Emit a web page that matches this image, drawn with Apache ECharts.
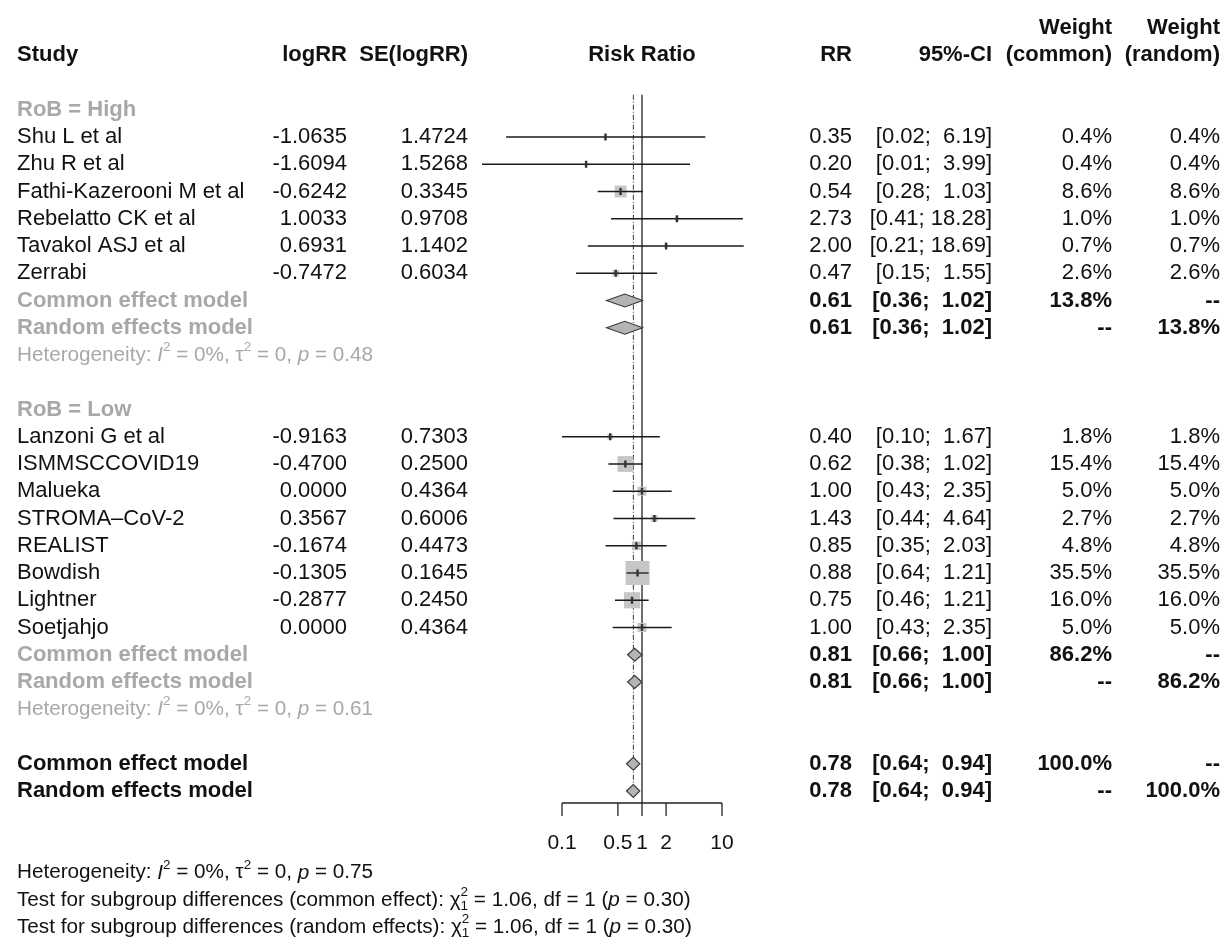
<!DOCTYPE html>
<html><head><meta charset="utf-8">
<script src="https://cdn.jsdelivr.net/npm/echarts@6/dist/echarts.min.js"></script>
<style>html,body{margin:0;padding:0;background:#fff}#c{width:1227px;height:939px}</style>
</head><body><div id="c"></div>
<script>
// ---------- data ----------
const subgroupLabels = ['RoB = High', 'RoB = Low'];
const studies = ['Shu L et al','Zhu R et al','Fathi-Kazerooni M et al','Rebelatto CK et al','Tavakol ASJ et al','Zerrabi',
  'Lanzoni G et al','ISMMSCCOVID19','Malueka','STROMA\u2013CoV-2','REALIST','Bowdish','Lightner','Soetjahjo'];
const studySubgroup = [0,0,0,0,0,0,1,1,1,1,1,1,1,1];
const logRR   = [-1.0635,-1.6094,-0.6242,1.0033,0.6931,-0.7472,-0.9163,-0.4700,0.0000,0.3567,-0.1674,-0.1305,-0.2877,0.0000];
const seLogRR = [1.4724,1.5268,0.3345,0.9708,1.1402,0.6034,0.7303,0.2500,0.4364,0.6006,0.4473,0.1645,0.2450,0.4364];
const rr      = [0.35,0.20,0.54,2.73,2.00,0.47,0.40,0.62,1.00,1.43,0.85,0.88,0.75,1.00];
const ciLower = [0.02,0.01,0.28,0.41,0.21,0.15,0.10,0.38,0.43,0.44,0.35,0.64,0.46,0.43];
const ciUpper = [6.19,3.99,1.03,18.28,18.69,1.55,1.67,1.02,2.35,4.64,2.03,1.21,1.21,2.35];
const weightCommon = [0.4,0.4,8.6,1.0,0.7,2.6,1.8,15.4,5.0,2.7,4.8,35.5,16.0,5.0];
const weightRandom = [0.4,0.4,8.6,1.0,0.7,2.6,1.8,15.4,5.0,2.7,4.8,35.5,16.0,5.0];

const subgroupRR     = [0.61, 0.81];
const subgroupLower  = [0.36, 0.66];
const subgroupUpper  = [1.02, 1.00];
const subgroupWeight = [13.8, 86.2];
const subgroupHet    = [{i2:'0%', tau2:'0', p:'0.48'}, {i2:'0%', tau2:'0', p:'0.61'}];

const overallRR = 0.78, overallLower = 0.64, overallUpper = 0.94, overallWeight = 100.0;
const overallHet = {i2:'0%', tau2:'0', p:'0.75'};
const subgroupTests = [{label:'common effect', chi2:'1.06', df:'1', p:'0.30'}, {label:'random effects', chi2:'1.06', df:'1', p:'0.30'}];

const axisTicks = [0.1, 0.5, 1, 2, 10];
const axisTickLabels = ['0.1', '0.5', '1', '2', '10'];

// ---------- layout / style ----------
const FONT = '"Liberation Sans", Arial, Helvetica, sans-serif';
const FS = 22, FS_HET = 20.7, FS_TICK = 21;
const BLACK = '#111', GREY = '#a8a8a8';
const COL = {study: 17, logRR: 347, se: 468, rr: 852, ci: 992, wc: 1112, wr: 1220};
const AXIS_ROW = 24.44;
const LINE_TOP_ROW = -1.55;

const fmtCI = (lo, hi) => '[' + lo.toFixed(2) + '; ' + hi.toFixed(2).padStart(5, ' ') + ']';
const fmtW = w => w.toFixed(1) + '%';

// ---------- build rows ----------
const texts = [];
const studyMarks = []; // [rr, row, lo, hi, w]
const diamonds = [];   // [est, row, lo, hi]
function T(row, x, text, o) { texts.push(Object.assign({row, x, text}, o || {})); }

T(-4, COL.wc, 'Weight', {align:'right', bold:true});
T(-4, COL.wr, 'Weight', {align:'right', bold:true});
T(-3, COL.study, 'Study', {bold:true});
T(-3, COL.logRR, 'logRR', {align:'right', bold:true});
T(-3, COL.se, 'SE(logRR)', {align:'right', bold:true});
T(-3, 'RR1', 'Risk Ratio', {align:'center', bold:true});
T(-3, COL.rr, 'RR', {align:'right', bold:true});
T(-3, COL.ci, '95%-CI', {align:'right', bold:true});
T(-3, COL.wc, '(common)', {align:'right', bold:true});
T(-3, COL.wr, '(random)', {align:'right', bold:true});

function hetParts(h, size) {
  return [
    {t:'Heterogeneity: ', s:size}, {t:'I', s:size, it:true}, {t:'2', s:size*0.65, dy:-size*0.38},
    {t:' = ' + h.i2 + ', ', s:size}, {t:'\u03c4', s:size}, {t:'2', s:size*0.65, dy:-size*0.38},
    {t:' = ' + h.tau2 + ', ', s:size}, {t:'p', s:size, it:true}, {t:' = ' + h.p, s:size}
  ];
}

let row = -1;
subgroupLabels.forEach((lab, g) => {
  T(row, COL.study, lab, {color:GREY, bold:true});
  row++;
  studies.forEach((name, i) => {
    if (studySubgroup[i] !== g) return;
    T(row, COL.study, name);
    T(row, COL.logRR, logRR[i].toFixed(4), {align:'right'});
    T(row, COL.se, seLogRR[i].toFixed(4), {align:'right'});
    T(row, COL.rr, rr[i].toFixed(2), {align:'right'});
    T(row, COL.ci, fmtCI(ciLower[i], ciUpper[i]), {align:'right'});
    T(row, COL.wc, fmtW(weightCommon[i]), {align:'right'});
    T(row, COL.wr, fmtW(weightRandom[i]), {align:'right'});
    studyMarks.push([rr[i], row, ciLower[i], ciUpper[i], weightCommon[i]]);
    row++;
  });
  [['Common effect model', fmtW(subgroupWeight[g]), '--'], ['Random effects model', '--', fmtW(subgroupWeight[g])]].forEach(m => {
    T(row, COL.study, m[0], {color:GREY, bold:true});
    T(row, COL.rr, subgroupRR[g].toFixed(2), {align:'right', bold:true});
    T(row, COL.ci, fmtCI(subgroupLower[g], subgroupUpper[g]), {align:'right', bold:true});
    T(row, COL.wc, m[1], {align:'right', bold:true});
    T(row, COL.wr, m[2], {align:'right', bold:true});
    diamonds.push([subgroupRR[g], row, subgroupLower[g], subgroupUpper[g]]);
    row++;
  });
  texts.push({row, x: COL.study, parts: hetParts(subgroupHet[g], FS_HET), color: GREY});
  row += 2;
});
[['Common effect model', fmtW(overallWeight), '--'], ['Random effects model', '--', fmtW(overallWeight)]].forEach(m => {
  T(row, COL.study, m[0], {bold:true});
  T(row, COL.rr, overallRR.toFixed(2), {align:'right', bold:true});
  T(row, COL.ci, fmtCI(overallLower, overallUpper), {align:'right', bold:true});
  T(row, COL.wc, m[1], {align:'right', bold:true});
  T(row, COL.wr, m[2], {align:'right', bold:true});
  diamonds.push([overallRR, row, overallLower, overallUpper]);
  row++;
});
row += 2;
texts.push({row, x: COL.study, parts: hetParts(overallHet, FS_HET), color: BLACK});
row++;
subgroupTests.forEach(t => {
  const s = FS_HET;
  texts.push({row, x: COL.study, color: BLACK, parts: [
    {t:'Test for subgroup differences (' + t.label + '): \u03c7', s},
    {t:'2', s:s*0.65, dy:-s*0.38, noadv:true}, {t:'1', s:s*0.65, dy:s*0.3},
    {t:' = ' + t.chi2 + ', df = ' + t.df + ' (', s}, {t:'p', s, it:true}, {t:' = ' + t.p + ')', s}
  ]});
  row++;
});

// ---------- rendering helpers ----------
const mctx = document.createElement('canvas').getContext('2d');
function fontStr(p) { return (p.it ? 'italic ' : '') + p.s + 'px ' + FONT; }

function renderText(params, api) {
  const it = texts[params.dataIndex];
  const y = api.coord([1, api.value(1)])[1];
  if (it.parts) {
    let x = it.x; const children = [];
    it.parts.forEach(p => {
      children.push({type:'text', x, y: y + (p.dy || 0), style:{text:p.t, fontFamily:FONT, fontSize:p.s,
        fontStyle: p.it ? 'italic' : 'normal', fill: it.color, align:'left', verticalAlign:'middle'}});
      mctx.font = fontStr(p);
      if (!p.noadv) x += mctx.measureText(p.t).width;
    });
    return {type:'group', children};
  }
  const x = it.x === 'RR1' ? api.coord([1, 0])[0] : it.x;
  return {type:'text', x, y, style:{text: it.text, fontFamily: FONT, fontSize: it.size || FS,
    fontWeight: it.bold ? 'bold' : 'normal', fill: it.color || BLACK, align: it.align || 'left', verticalAlign:'middle'}};
}

function renderStudy(params, api) {
  const p = api.coord([api.value(0), api.value(1)]);
  const lo = api.coord([api.value(2), api.value(1)]);
  const hi = api.coord([api.value(3), api.value(1)]);
  const side = 4.03 * Math.sqrt(api.value(4));
  return {type:'group', children:[
    {type:'rect', shape:{x:p[0]-side/2, y:p[1]-side/2, width:side, height:side}, style:{fill:'#c6c6c6'}},
    {type:'line', shape:{x1:lo[0], y1:p[1], x2:hi[0], y2:p[1]}, style:{stroke:'#1a1a1a', lineWidth:1.3}},
    {type:'rect', shape:{x:p[0]-1.2, y:p[1]-3.5, width:2.4, height:7}, style:{fill:'#333'}}
  ]};
}

function renderDiamond(params, api) {
  const c = api.coord([api.value(0), api.value(1)]);
  const lo = api.coord([api.value(2), api.value(1)]);
  const hi = api.coord([api.value(3), api.value(1)]);
  const h = 6.5;
  return {type:'polygon', shape:{points:[[lo[0], c[1]], [c[0], c[1]-h], [hi[0], c[1]], [c[0], c[1]+h]]},
    style:{fill:'#b4b4b4', stroke:'#3a3a3a', lineWidth:1.1}};
}

function renderRefLines(params, api) {
  const top1 = api.coord([1, LINE_TOP_ROW]), bot1 = api.coord([1, AXIS_ROW]);
  const topC = api.coord([overallRR, LINE_TOP_ROW]), botC = api.coord([overallRR, AXIS_ROW - 0.2]);
  return {type:'group', children:[
    {type:'line', shape:{x1:top1[0], y1:top1[1], x2:bot1[0], y2:bot1[1]}, style:{stroke:'#222', lineWidth:1.3}},
    {type:'line', shape:{x1:topC[0], y1:topC[1], x2:botC[0], y2:botC[1]}, style:{stroke:'#333', lineWidth:1, lineDash:[5,2,1,2]}}
  ]};
}

function renderAxis(params, api) {
  const a = api.coord([axisTicks[0], AXIS_ROW]), b = api.coord([axisTicks[axisTicks.length-1], AXIS_ROW]);
  const children = [{type:'line', shape:{x1:a[0], y1:a[1], x2:b[0], y2:b[1]}, style:{stroke:'#222', lineWidth:1.3}}];
  axisTicks.forEach((t, i) => {
    const p = api.coord([t, AXIS_ROW]);
    children.push({type:'line', shape:{x1:p[0], y1:p[1], x2:p[0], y2:p[1]+13}, style:{stroke:'#222', lineWidth:1.3}});
    children.push({type:'text', x:p[0], y:p[1]+40, style:{text:axisTickLabels[i], fontFamily:FONT, fontSize:FS_TICK,
      fill:BLACK, align:'center', verticalAlign:'middle'}});
  });
  return {type:'group', children};
}

// ---------- chart ----------
const chart = echarts.init(document.getElementById('c'), null, {renderer:'canvas'});
const ROWH = 27.25, Y_MIN = -5, Y_MAX = 29.35;
chart.setOption({
  animation: false,
  backgroundColor: '#fff',
  grid: {left: 482, width: 320, top: 137 + Y_MIN * ROWH, height: (Y_MAX - Y_MIN) * ROWH, outerBoundsMode: 'none'},
  xAxis: {type:'log', logBase:10, min:0.01, max:100, show:false},
  yAxis: {type:'value', inverse:true, min:Y_MIN, max:Y_MAX, show:false},
  series: [
    {type:'custom', renderItem: renderRefLines, data:[[1, 0]], z:1, silent:true},
    {type:'custom', renderItem: renderStudy, data: studyMarks, z:2, silent:true},
    {type:'custom', renderItem: renderDiamond, data: diamonds, z:3, silent:true},
    {type:'custom', renderItem: renderAxis, data:[[1, AXIS_ROW]], z:3, silent:true},
    {type:'custom', renderItem: renderText, data: texts.map(t => [1, t.row]), z:4, silent:true}
  ]
});
</script></body></html>
